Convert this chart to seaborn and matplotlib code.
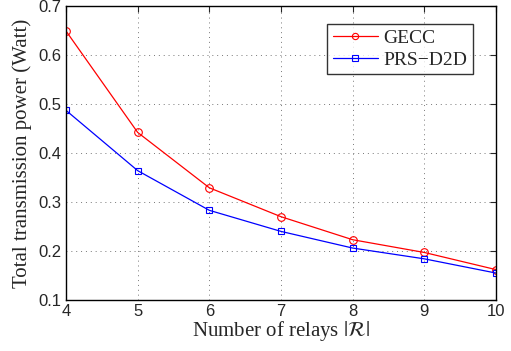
import matplotlib
matplotlib.use("Agg")
import matplotlib.pyplot as plt
import seaborn as sns
import pandas as pd

relays = [4, 5, 6, 7, 8, 9, 10]
gecc = [0.649, 0.442, 0.329, 0.270, 0.223, 0.197, 0.162]
prs_d2d = [0.487, 0.364, 0.283, 0.240, 0.206, 0.184, 0.155]
x_ticks = [4, 5, 6, 7, 8, 9, 10]
y_ticks = [0.1, 0.2, 0.3, 0.4, 0.5, 0.6, 0.7]

sns.set_style("white")
plt.rcParams["font.family"] = ["Liberation Sans", "DejaVu Sans"]
plt.rcParams["mathtext.fontset"] = "stix"

df = pd.concat([
    pd.DataFrame({"relays": relays, "power": gecc, "scheme": "GECC"}),
    pd.DataFrame({"relays": relays, "power": prs_d2d, "scheme": "PRS\u2212D2D"}),
])

fig = plt.figure(figsize=(5.11, 3.51), dpi=100)
ax = fig.add_axes([66 / 511, 51 / 351, 430 / 511, 294 / 351])

sns.lineplot(data=df, x="relays", y="power", hue="scheme", style="scheme",
             palette={"GECC": "#ff0000", "PRS\u2212D2D": "#0000ff"},
             markers={"GECC": "o", "PRS\u2212D2D": "s"},
             dashes=False, linewidth=0.9, markersize=5.5,
             markerfacecolor="none", markeredgewidth=0.8, ax=ax)
for line in ax.lines:
    line.set_markerfacecolor("none")
    line.set_markeredgecolor(line.get_color())
    if line.get_marker() == "s":
        line.set_markersize(4.5)

ax.set_xlim(4, 10)
ax.set_ylim(0.1, 0.7)
ax.set_xticks(x_ticks)
ax.set_yticks(y_ticks)
ax.set_xticklabels([str(v) for v in x_ticks], fontsize=12)
ax.set_yticklabels([f"{v:g}" for v in y_ticks], fontsize=12)
ax.grid(True, linestyle=(0, (1, 4)), color="#777777", linewidth=0.7)
ax.tick_params(direction="in", length=4, top=True, right=True, width=0.8, pad=3)
for s in ax.spines.values():
    s.set_color("black")
    s.set_linewidth(1.0)

ax.set_xlabel(r"Number of relays $|\mathcal{R}|$", fontsize=15,
              family="Liberation Serif", labelpad=0)
ax.set_ylabel("Total transmission power (Watt)", fontsize=15,
              family="Liberation Serif", labelpad=5)

leg = ax.legend(loc="upper right", bbox_to_anchor=(0.947, 0.94),
                prop={"family": "Liberation Serif", "size": 14},
                frameon=True, fancybox=False, edgecolor="black",
                handlelength=2.3, handletextpad=0.3, borderpad=0.3,
                labelspacing=0.2, borderaxespad=0)
leg.get_frame().set_linewidth(1.0)
for h in leg.get_lines():
    h.set_markerfacecolor("none")
    h.set_markersize(4.5 if h.get_marker() == "o" else 4)

fig.savefig("out.png", dpi=100)
